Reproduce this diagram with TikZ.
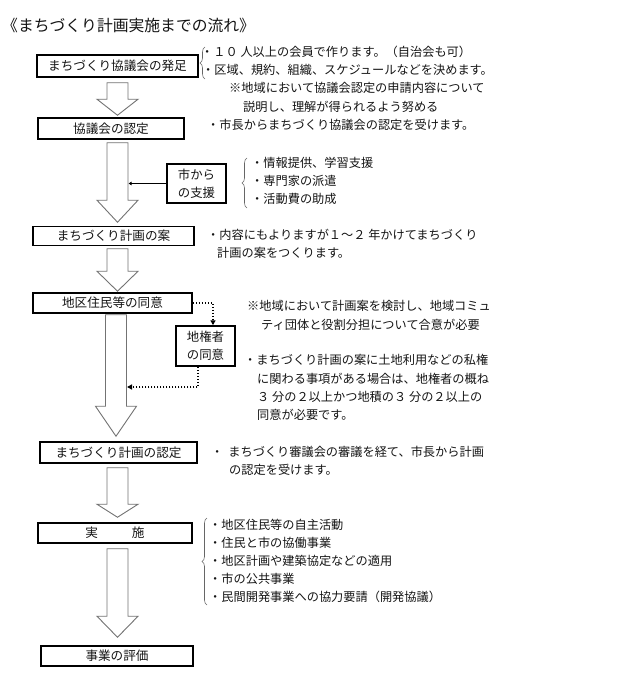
\documentclass[tikz,border=0pt]{standalone}
\usepackage{fontspec}
\setmainfont{Noto Sans CJK JP}
\usetikzlibrary{calc,arrows.meta,decorations.pathreplacing}
\newcommand\blkarrow[3]{\draw[blk] ($(#1)+(-10.5,0)$) -- ($(#1)+(10.5,0)$) -- ($(#2)+(10.5,-#3)$) -- ($(#2)+(20.5,-#3)$) -- (#2) -- ($(#2)+(-20.5,-#3)$) -- ($(#2)+(-10.5,-#3)$) -- cycle;}
\begin{document}
\begin{tikzpicture}[x=1pt,y=-1pt,
  every node/.style={font=\fontsize{12.2}{14}\selectfont, text=black!92},
  box/.style={draw=black, line width=1.5pt, inner sep=0pt, align=center, font=\fontsize{12.6}{14}\selectfont},
  box2l/.style={box, font=\fontsize{12.4}{18}\selectfont},
  txt/.style={anchor=west, inner sep=0pt},
  blk/.style={draw=black!55, line width=0.9pt, fill=white, line join=miter},
  dotl/.style={line width=1.5pt, dash pattern=on 1.5pt off 1.5pt, -{Triangle[length=5pt,width=5pt]}},
  brc/.style={draw=black!60, line width=0.6pt, decorate, decoration={brace, amplitude=5pt}}
]
\useasboundingbox (0,0) rectangle (640,685);

% title
\node[txt, font=\fontsize{15.8}{18}\selectfont] (title) at (2,25) {《まちづくり計画実施までの流れ》};

% main boxes
\node[box, minimum width=161pt, minimum height=22pt] (b1) at (117.5,66) {まちづくり協議会の発足};
\node[box, minimum width=146pt, minimum height=21pt] (b2) at (111,128.5) {協議会の認定};
\node[box, minimum width=161pt, minimum height=19pt] (b3) at (113.5,236) {まちづくり計画の案};
\node[box, minimum width=159pt, minimum height=20pt] (b4) at (112.5,303) {地区住民等の同意};
\node[box2l, minimum width=59pt, minimum height=40pt] (b5) at (205.5,346) {地権者\\の同意};
\node[box, minimum width=157pt, minimum height=21pt] (b6) at (118.5,452.5) {まちづくり計画の認定};
\node[box, minimum width=154pt, minimum height=20pt] (b7) at (115,533) {実\hspace{34pt}施};
\node[box, minimum width=152pt, minimum height=20pt] (b8) at (117,656) {事業の評価};
\node[box2l, minimum width=59pt, minimum height=39pt] (b9) at (196.5,183.5) {市から\\の支援};

% block arrows
\coordinate (ax) at (117.5,0);
\coordinate (ax4) at (116,0);
\coordinate (a1s) at ($(b1.south -| ax)+(0,5)$);
\coordinate (a1t) at ($(b2.north -| ax)+(0,-2)$);
\coordinate (a2s) at ($(b2.south -| ax)+(0,3)$);
\coordinate (a2t) at ($(b3.north -| ax)+(0,-3.5)$);
\coordinate (a3s) at ($(b3.south -| ax)+(0,2.5)$);
\coordinate (a3t) at ($(b4.north -| ax)+(0,-1)$);
\coordinate (a4s) at ($(b4.south -| ax4)+(0,1)$);
\coordinate (a4t) at ($(b6.north -| ax4)+(0,-5)$);
\coordinate (a5s) at ($(b6.south -| ax)+(0,4)$);
\coordinate (a5t) at ($(b7.north -| ax)+(0,-5)$);
\coordinate (a6s) at ($(b7.south -| ax)+(0,5)$);
\coordinate (a6t) at ($(b8.north -| ax)+(0,-8)$);
\blkarrow{a1s}{a1t}{16}
\blkarrow{a2s}{a2t}{22}
\blkarrow{a3s}{a3t}{20}
\blkarrow{a4s}{a4t}{30}
\blkarrow{a5s}{a5t}{13}
\blkarrow{a6s}{a6t}{21}

% support connector
\coordinate (sr) at ($(a2s)+(11,0)$);
\draw[line width=1.2pt, -{Latex[length=3pt,width=4pt]}] (b9.west) -- (b9.west -| sr);

% dotted connectors
\coordinate (j1) at (127,387);
\draw[dotl] (b4.east) -| ($(b5.north)+(7.5,0)$);
\draw[dotl] ($(b5.south)+(-7.5,0)$) |- (j1);

% texts for step 1/2
\node[txt] (r1) at (201,52) {・１０ 人以上の会員で作ります。（自治会も可）};
\node[txt] (r2) at (202,70) {・区域、規約、組織、スケジュールなどを決めます。};
\node[txt] (r3) at (229,88) {※地域において協議会認定の申請内容について};
\node[txt] (r4) at (243,107) {説明し、理解が得られるよう努める};
\node[txt] (r5) at (207,125) {・市長からまちづくり協議会の認定を受けます。};
\draw[brc] (205,79) -- (205,47);

% support texts
\node[txt] (s1) at (251,163) {・情報提供、学習支援};
\node[txt] (s2) at (251,181) {・専門家の派遣};
\node[txt] (s3) at (251,199) {・活動費の助成};
\draw[brc] (247,208) -- (247,158);

% plan texts
\node[txt] (p1) at (207,235) {・内容にもよりますが１～２ 年かけてまちづくり};
\node[txt] (p2) at (217,253) {計画の案をつくります。};

% consent texts
\node[txt] (q1) at (247,306) {※地域において計画案を検討し、地域コミュ};
\node[txt] (q2) at (261,325) {ティ団体と役割分担について合意が必要};
\node[txt] (q3) at (244,360) {・まちづくり計画の案に土地利用などの私権};
\node[txt] (q4) at (257,379) {に関わる事項がある場合は、地権者の概ね};
\node[txt] (q5) at (257,397) {３ 分の２以上かつ地積の３ 分の２以上の};
\node[txt] (q6) at (257,415) {同意が必要です。};

% approval texts
\node[txt] (u1) at (211,452) {・\hspace{5pt}まちづくり審議会の審議を経て、市長から計画};
\node[txt] (u2) at (229,470) {の認定を受けます。};

% implementation texts
\node[txt] (v1) at (209,525) {・地区住民等の自主活動};
\node[txt] (v2) at (209,543) {・住民と市の協働事業};
\node[txt] (v3) at (209,561) {・地区計画や建築協定などの適用};
\node[txt] (v4) at (209,579) {・市の公共事業};
\node[txt] (v5) at (209,597) {・民間開発事業への協力要請（開発協議）};
\draw[brc] (207,605) -- (207,518);
\end{tikzpicture}
\end{document}
